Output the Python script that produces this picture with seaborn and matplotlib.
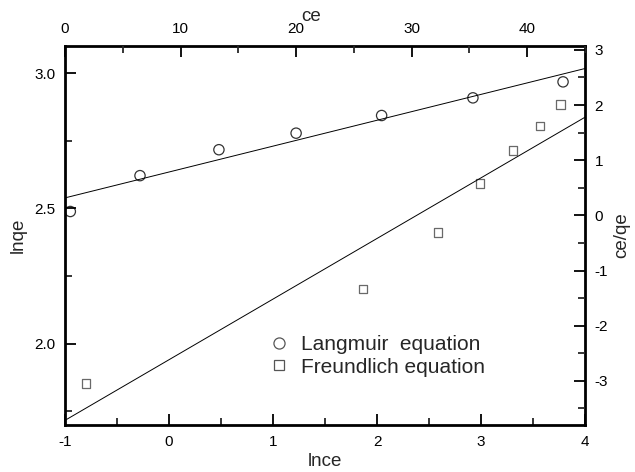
import matplotlib
matplotlib.use("Agg")
import matplotlib.pyplot as plt
import seaborn as sns
import pandas as pd
from matplotlib.ticker import MultipleLocator
from matplotlib.lines import Line2D

# Langmuir data (top / right axes)
ce = [0.46, 6.49, 13.32, 20.0, 27.4, 35.3, 43.1]
ce_qe = [0.07, 0.72, 1.19, 1.49, 1.81, 2.13, 2.42]
# Freundlich data (bottom / left axes)
lnce = [-0.80, 1.868, 2.589, 2.993, 3.308, 3.567, 3.766]
lnqe = [1.853, 2.202, 2.411, 2.592, 2.714, 2.804, 2.884]

labels = ["Langmuir  equation", "Freundlich equation"]

sns.set_style("ticks")
plt.rcParams['font.family'] = ['Liberation Sans', 'DejaVu Sans']
plt.rcParams['axes.unicode_minus'] = False

df_l = pd.DataFrame({"ce": ce, "ce_qe": ce_qe})
df_f = pd.DataFrame({"lnce": lnce, "lnqe": lnqe})

fig = plt.figure(figsize=(6.35, 4.72), dpi=100)
pos = [65/635, 1-425/472, 520/635, 379/472]
ax = fig.add_axes(pos)
ax2 = fig.add_axes(pos, frameon=False)
ax2.patch.set_visible(False)

# limits first so regression lines span whole axes
ax.set_xlim(-1, 4)
ax.set_ylim(1.7, 3.1)
ax2.set_xlim(0, 45)
ax2.set_ylim(-3.8, 3.07)

sns.regplot(data=df_f, x="lnce", y="lnqe", ax=ax, ci=None, truncate=False,
            marker="s",
            scatter_kws=dict(s=36, facecolors="none", edgecolors="#444444", linewidths=0.9),
            line_kws=dict(color="black", lw=0.7))
sns.regplot(data=df_l, x="ce", y="ce_qe", ax=ax2, ci=None, truncate=False,
            marker="o",
            scatter_kws=dict(s=55, facecolors="none", edgecolors="black", linewidths=0.9),
            line_kws=dict(color="black", lw=0.7))

ax.set_xlim(-1, 4)
ax.set_ylim(1.7, 3.1)
ax2.set_xlim(0, 45)
ax2.set_ylim(-3.8, 3.07)

ax2.xaxis.tick_top()
ax2.xaxis.set_label_position("top")
ax2.yaxis.tick_right()
ax2.yaxis.set_label_position("right")

ax.xaxis.set_major_locator(MultipleLocator(1))
ax.xaxis.set_minor_locator(MultipleLocator(0.5))
ax.yaxis.set_major_locator(MultipleLocator(0.5))
ax.yaxis.set_minor_locator(MultipleLocator(0.25))
ax2.xaxis.set_major_locator(MultipleLocator(10))
ax2.xaxis.set_minor_locator(MultipleLocator(5))
ax2.yaxis.set_major_locator(MultipleLocator(1))
ax2.yaxis.set_minor_locator(MultipleLocator(0.5))

for a in (ax, ax2):
    a.tick_params(which="major", direction="in", length=8, width=1.3, labelsize=11,
                  colors="black", pad=7)
    a.tick_params(which="minor", direction="in", length=5, width=1.3)

for side in ["left", "right", "top", "bottom"]:
    ax.spines[side].set_visible(True)
    ax.spines[side].set_linewidth(2)
    ax.spines[side].set_color("black")

ax.set_xlabel("lnce", fontsize=13.5)
ax.set_ylabel("lnqe", fontsize=13.5)
ax2.set_xlabel("ce", fontsize=13.5)
ax2.set_ylabel("ce/qe", fontsize=13.5)
ax.xaxis.set_label_coords(0.5, -0.075)
ax.yaxis.set_label_coords(-0.073, 0.5)
ax2.xaxis.set_label_coords(0.473, 1.066)
ax2.yaxis.set_label_coords(1.054, 0.5)

handles = [
    Line2D([], [], ls="none", marker="o", markersize=8, markerfacecolor="none",
           markeredgecolor="#555555", markeredgewidth=0.9),
    Line2D([], [], ls="none", marker="s", markersize=7, markerfacecolor="none",
           markeredgecolor="#555555", markeredgewidth=0.9),
]
ax2.legend(handles, labels, loc="center left", frameon=False, fontsize=15,
           bbox_to_anchor=(0.355, 0.182), handlelength=1.0, handletextpad=0.55,
           labelspacing=0.15)

fig.savefig("out.png", dpi=100)
